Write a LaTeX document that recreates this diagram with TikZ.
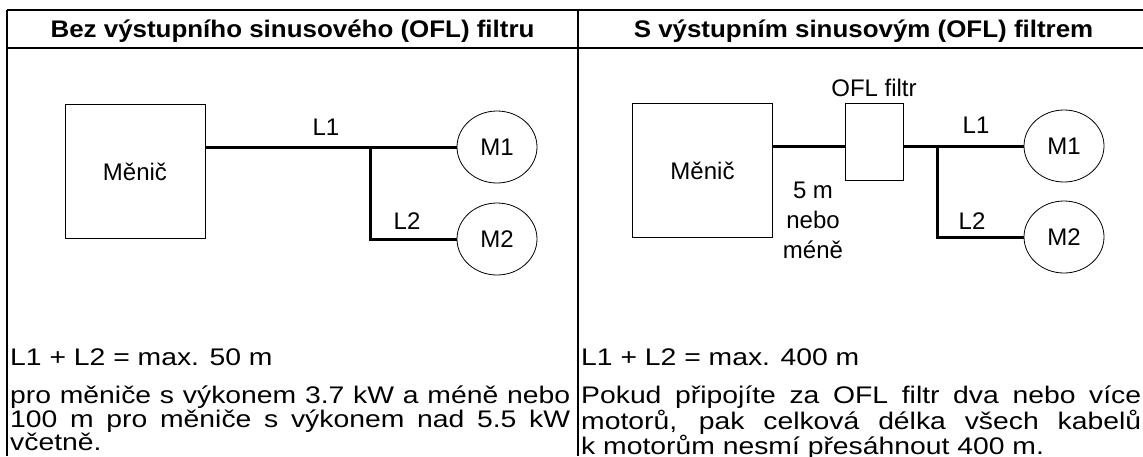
\documentclass[tikz,border=0pt]{standalone}
\usepackage{fontspec}
\setmainfont{Liberation Sans}[FakeStretch=1.18]
\newfontfamily\diagfont{Liberation Sans}
\newfontfamily\headfont{Liberation Sans}[FakeStretch=1.08]
\usepackage{tikz}
\usetikzlibrary{shapes.geometric}

\begin{document}
\begin{tikzpicture}[x=1pt, y=-1pt,
    rule/.style={line width=2pt},
    cable/.style={line width=3pt},
    unit/.style={draw, line width=0.8pt, inner sep=0pt, minimum width=140pt, minimum height=134pt, font=\diagfont\fontsize{24}{26}\selectfont},
    filterbox/.style={draw, line width=0.8pt, inner sep=0pt, minimum width=58pt, minimum height=77pt},
    motor/.style={draw, ellipse, line width=0.8pt, inner sep=0pt, minimum width=80pt, minimum height=72pt, font=\diagfont\fontsize{24}{26}\selectfont},
    lab/.style={inner sep=0pt, font=\diagfont\fontsize{24}{26}\selectfont},
    head/.style={inner sep=0pt, anchor=base, font=\headfont\bfseries\fontsize{24}{26}\selectfont},
    note/.style={inner sep=0pt, anchor=base west, font=\fontsize{24}{22.5}\selectfont},
    para/.style={inner sep=0pt, anchor=north west, text width=560pt, align=justify, font=\fontsize{24}{22.5}\selectfont}]
    \useasboundingbox (0,0) rectangle (1143,456);
    % table rules
    \draw[rule] (7,10) -- (1143,10);
    \draw[rule] (7,48) -- (1143,48);
    \draw[rule] (7,10) -- (7,456);
    \draw[rule] (578,10) -- (578,456);
    \node[head] (head1) at (292.5,37.5) {Bez výstupního sinusového (OFL) filtru};
    \node[head] (head2) at (863.5,37.5) {S výstupním sinusovým (OFL) filtrem};
    % without filter
    \node[unit] (inv1) at (135,171.5) {Měnič};
    \node[motor] (m11) at (497,147) {M1};
    \node[motor] (m12) at (497,239) {M2};
    \coordinate (j1) at (370,147);
    \draw[cable] (inv1.east |- m11) -- (m11.west);
    \draw[cable] (j1) |- (m12.west);
    \node[lab] (l11) at (326,127) {L1};
    \node[lab] (l12) at (407,221) {L2};
    % with filter
    \node[unit] (inv2) at (702.5,170.5) {Měnič};
    \node[filterbox, label={[lab, label distance=6pt]above:OFL filtr}] (ofl) at (874,141.5) {};
    \node[motor] (m21) at (1064,146) {M1};
    \node[motor] (m22) at (1064,237) {M2};
    \coordinate (j2) at (937,146);
    \draw[cable] (inv2.east |- m21) -- (ofl.west |- m21);
    \draw[cable] (ofl.east |- m21) -- (m21.west);
    \draw[cable] (j2) |- (m22.west);
    \node[lab] (l21) at (976,125) {L1};
    \node[lab] (l22) at (972,221) {L2};
    \node[lab, align=center, font=\diagfont\fontsize{24}{30}\selectfont] (len) at (813,220) {5 m\\nebo\\méně};
    % notes
    \node[note] (sum1) at (10,365) {L1 + L2 = max. 50 m};
    \node[para] (text1) at (10,386) {pro měniče s výkonem 3.7 kW a méně nebo\linebreak 100 m pro měniče s výkonem nad 5.5 kW\linebreak včetně.};
    \node[note] (sum2) at (581,365) {L1 + L2 = max. 400 m};
    \node[para] (text2) at (581,386) {Pokud připojíte za OFL filtr dva nebo více\linebreak motorů, pak celková délka všech kabelů\linebreak k motorům nesmí přesáhnout 400 m.};
\end{tikzpicture}
\end{document}
